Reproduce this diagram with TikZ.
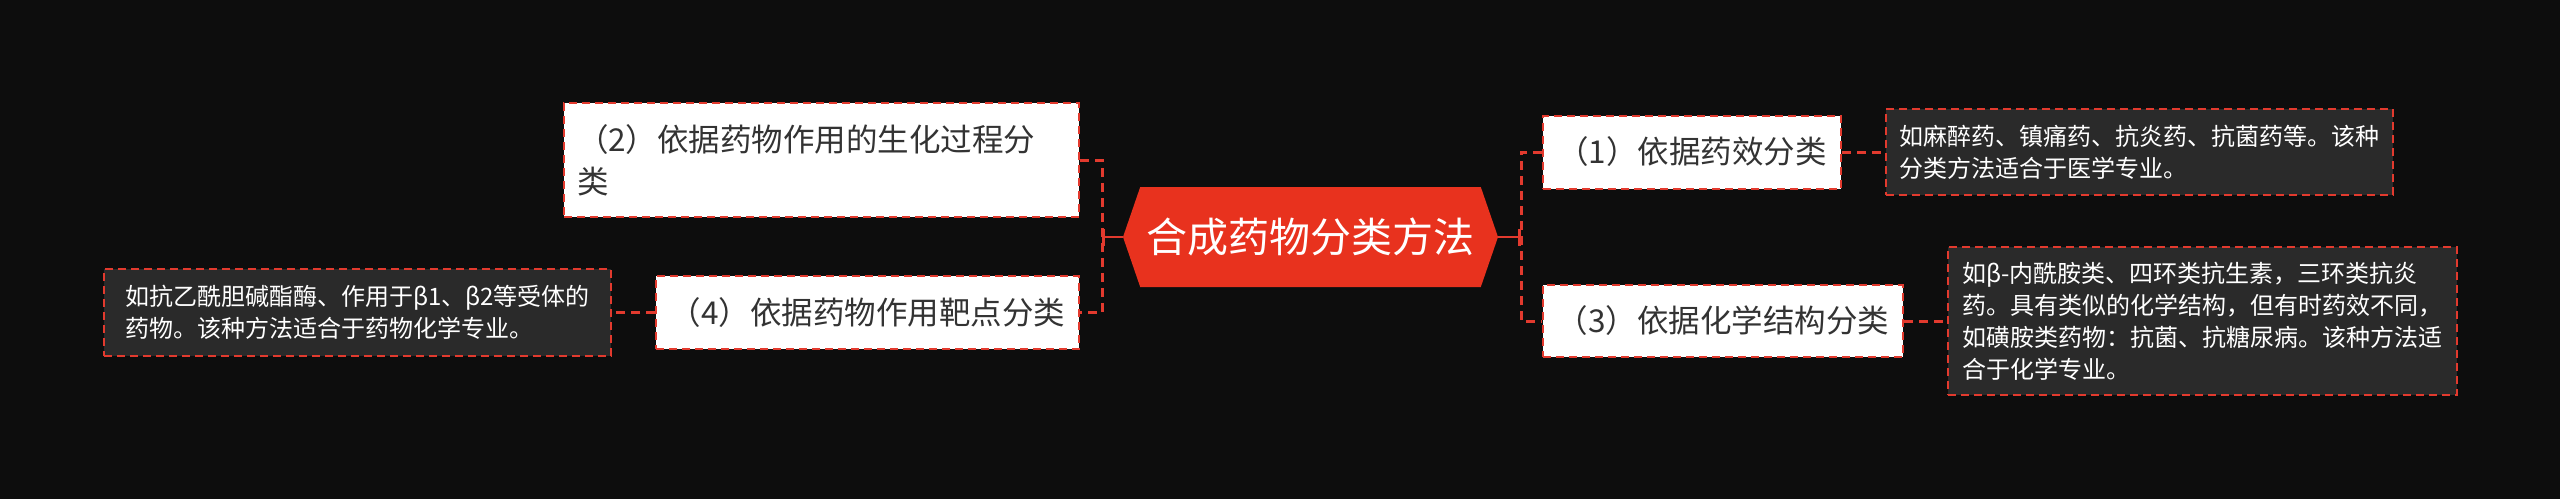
\documentclass[tikz,border=0pt]{standalone}
\usepackage{fontspec}
\setmainfont{Noto Sans CJK SC}
\usetikzlibrary{shapes.symbols,arrows.meta}

\definecolor{bgdark}{HTML}{0D0D0D}
\definecolor{linered}{HTML}{E23A2E}
\definecolor{rootred}{HTML}{E8321E}
\definecolor{memofill}{HTML}{2A2A2A}
\definecolor{topictext}{HTML}{333333}

\tikzset{every picture/.style={line width=0.75pt}}
\tikzset{
  root/.style={signal, signal to=west and east, signal pointer angle=142,
    fill=rootred, text=white, minimum width=375pt, minimum height=100pt,
    inner sep=0pt, font=\fontsize{41}{49}\selectfont},
  topic/.style={draw=linered, line width=2pt, dash pattern=on 8pt off 5pt,
    fill=white, text=topictext, inner sep=0pt, font=\fontsize{31.5}{42}\selectfont},
  memo/.style={draw=linered, line width=2pt, dash pattern=on 8pt off 5pt,
    fill=memofill, text=white, inner sep=0pt, align=left,
    font=\fontsize{24}{32}\selectfont},
  trunk/.style={draw=linered, line width=2.5pt, -{Bar[width=17pt,line width=3pt]}},
  branch/.style={draw=linered, line width=3pt, dash pattern=on 9pt off 6pt},
}

\begin{document}
\begin{tikzpicture}[x=1pt,y=1pt,yscale=-1,xscale=1]
        \fill[bgdark] (0,0) rectangle (2560,499);
        \useasboundingbox (0,0) rectangle (2560,499);

        %Shape: Hexagon [id:root]
        \draw (1310.5,237) node [root] (root) {合成药物分类方法};

        % Text Node
        \draw (821.5,160) node [topic, minimum width=515pt, minimum height=114pt, text width=489pt, align=left] (t2) {（2）依据药物作用的生化过程分\\类};
        % Text Node
        \draw (867.5,312.5) node [topic, minimum width=423pt, minimum height=73pt] (t4) {（4）依据药物作用靶点分类};
        % Text Node
        \draw (1692,152) node [topic, minimum width=298pt, minimum height=73pt] (t1) {（1）依据药效分类};
        % Text Node
        \draw (1723,321) node [topic, minimum width=360pt, minimum height=72pt] (t3) {（3）依据化学结构分类};

        % Text Node
        \draw (357.5,312.5) node [memo, minimum width=507pt, minimum height=87pt] (d4) {如抗乙酰胆碱酯酶、作用于β1、β2等受体的\\药物。该种方法适合于药物化学专业。};
        % Text Node
        \draw (2139.5,152) node [memo, minimum width=507pt, minimum height=86pt] (d1) {如麻醉药、镇痛药、抗炎药、抗菌药等。该种\\分类方法适合于医学专业。};
        % Text Node
        \draw (2202.5,321) node [memo, minimum width=509pt, minimum height=148pt] (d3) {如β-内酰胺类、四环类抗生素，三环类抗炎\\药。具有类似的化学结构，但有时药效不同，\\如磺胺类药物：抗菌、抗糖尿病。该种方法适\\合于化学专业。};

        %Straight Lines
        \coordinate (lj) at (1102,237);
        \coordinate (rj) at (1521,237);
        \draw [trunk] (root.west) -- (lj);
        \draw [trunk] (root.east) -- (rj);
        %Straight Lines
        \draw [branch] (t2.east) -| (lj) |- (t4.east);
        \draw [branch] (t1.west) -| (rj) |- (t3.west);
        %Straight Lines
        \draw [branch] (t1.east) -- (d1.west);
        \draw [branch] (t3.east) -- (d3.west);
        \draw [branch] (t4.west) -- (d4.east);
\end{tikzpicture}
\end{document}
